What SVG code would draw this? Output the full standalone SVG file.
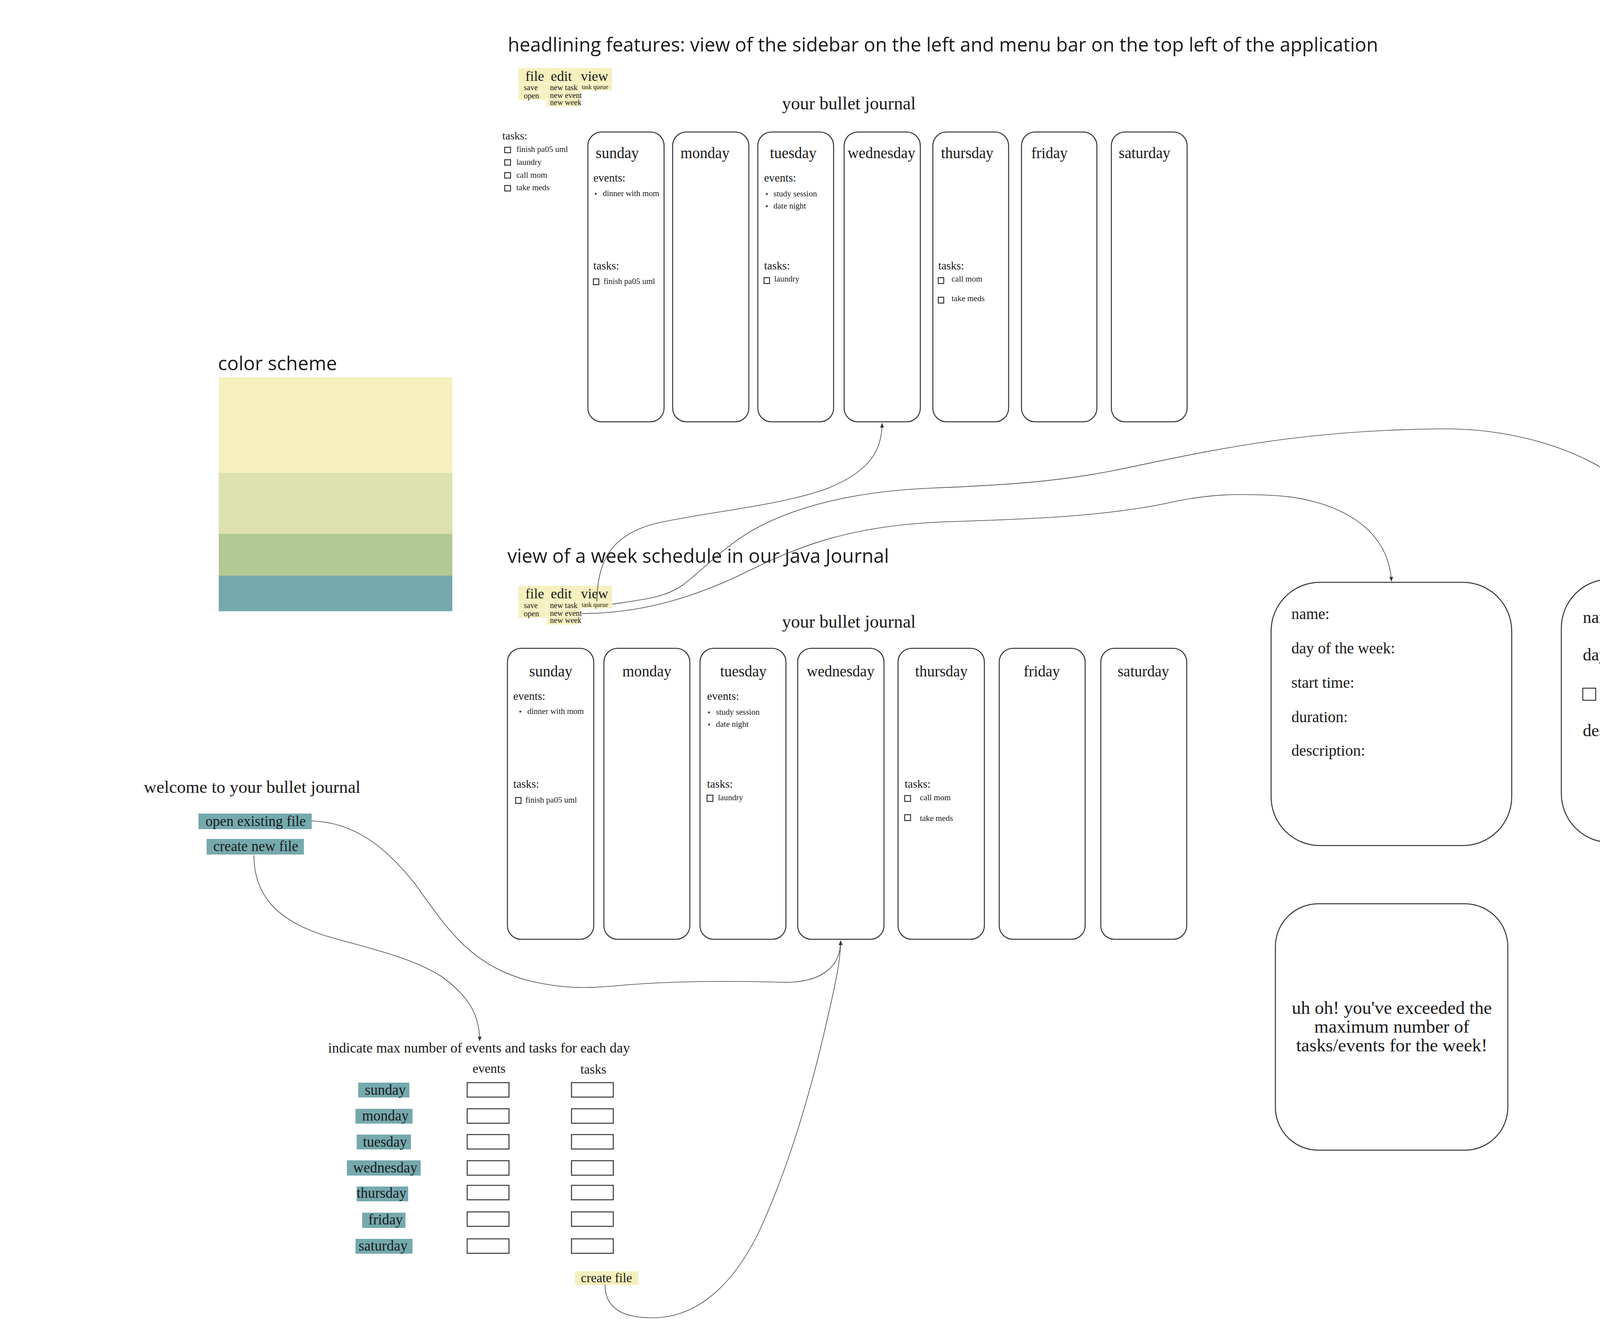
<svg xmlns="http://www.w3.org/2000/svg" width="4662" height="3431" viewBox="0 0 4662 3431">
<defs>
<style>
.title{font-family:"Open Sans","Noto Sans",sans-serif;font-size:49px;fill:#1a1a1a}
.sf{font-family:"Liberation Serif","Times New Roman",serif;fill:#1a1a1a}
.card{fill:#fff;stroke:#333;stroke-width:2.5}
.cb{fill:#fff;stroke:#222;stroke-width:2.2}
.inp{fill:#fff;stroke:#333;stroke-width:2.5}
.menu{fill:#F5F0BE;stroke:#FBF8E3;stroke-width:1.5}
.teal{fill:#75A9AE}
.yel{fill:#F5F0BE}
.conn{fill:none;stroke:#444;stroke-width:1.6}
.day{font-size:39px}
.lab{font-size:29px}
.item{font-size:21px}
</style>
<marker id="arr" viewBox="0 0 10 10" refX="9" refY="5" markerWidth="12" markerHeight="12" markerUnits="userSpaceOnUse" orient="auto">
<path d="M0,1 L10,5 L0,9 Z" fill="#333"/>
</marker>
</defs>
<rect width="4662" height="3431" fill="#fff"/>

<g id="title-headlining">
<text class="title" x="1300" y="132">headlining features: view of the sidebar on the left and menu bar on the top left of the application</text>
</g>

<g id="menu-top">
<rect class="menu" x="1327" y="174" width="240" height="40"/>
<rect class="menu" x="1327" y="214" width="72" height="21"/>
<rect class="menu" x="1327" y="235" width="72" height="21"/>
<rect class="menu" x="1399" y="214" width="88" height="19"/>
<rect class="menu" x="1399" y="233" width="88" height="20"/>
<rect class="menu" x="1399" y="253" width="88" height="20"/>
<rect class="menu" x="1487" y="214" width="80" height="18"/>
<text class="sf" font-size="36" x="1345" y="207">file</text>
<text class="sf" font-size="36" x="1410" y="207">edit</text>
<text class="sf" font-size="36" x="1487" y="207">view</text>
<text class="sf" font-size="20" x="1341" y="231">save</text>
<text class="sf" font-size="20" x="1341" y="252">open</text>
<text class="sf" font-size="20" x="1408" y="231">new task</text>
<text class="sf" font-size="20" x="1408" y="251">new event</text>
<text class="sf" font-size="20" x="1408" y="269">new week</text>
<text class="sf" font-size="16" x="1489" y="228">task queue</text>
</g>

<g id="journal-title-top">
<text class="sf" font-size="46" x="2002" y="280">your bullet journal</text>
</g>

<g id="sidebar">
<text class="sf" font-size="28" x="1286" y="357">tasks:</text>
<rect class="cb" x="1292" y="377" width="15" height="14"/>
<text class="sf item" x="1322" y="389">finish pa05 uml</text>
<rect class="cb" x="1292" y="409" width="15" height="14"/>
<text class="sf item" x="1322" y="422">laundry</text>
<rect class="cb" x="1292" y="442" width="15" height="14"/>
<text class="sf item" x="1322" y="455">call mom</text>
<rect class="cb" x="1292" y="475" width="15" height="14"/>
<text class="sf item" x="1322" y="487">take meds</text>
</g>

<g id="top-sunday">
<rect class="card" x="1505" y="338" width="195" height="742" rx="35"/>
<text class="sf day" x="1525" y="405">sunday</text>
<text class="sf lab" x="1519" y="465">events:</text>
<circle cx="1525" cy="496" r="2.5" fill="#333"/>
<text class="sf item" x="1543" y="502">dinner with mom</text>
<text class="sf lab" x="1519" y="690">tasks:</text>
<rect class="cb" x="1519" y="714" width="14" height="15"/>
<text class="sf item" x="1545" y="727">finish pa05 uml</text>
</g>
<g id="top-monday">
<rect class="card" x="1722" y="338" width="195" height="742" rx="35"/>
<text class="sf day" x="1742" y="405">monday</text>
</g>
<g id="top-tuesday">
<rect class="card" x="1940" y="338" width="194" height="742" rx="35"/>
<text class="sf day" x="1971" y="405">tuesday</text>
<text class="sf lab" x="1956" y="465">events:</text>
<circle cx="1963" cy="497" r="2.5" fill="#333"/>
<text class="sf item" x="1980" y="503">study session</text>
<circle cx="1963" cy="528" r="2.5" fill="#333"/>
<text class="sf item" x="1980" y="534">date night</text>
<text class="sf lab" x="1956" y="690">tasks:</text>
<rect class="cb" x="1956" y="711" width="14" height="15"/>
<text class="sf item" x="1982" y="721">laundry</text>
</g>
<g id="top-wednesday">
<rect class="card" x="2161" y="338" width="195" height="742" rx="35"/>
<text class="sf day" x="2170" y="405">wednesday</text>
</g>
<g id="top-thursday">
<rect class="card" x="2388" y="338" width="194" height="742" rx="35"/>
<text class="sf day" x="2409" y="405">thursday</text>
<text class="sf lab" x="2402" y="690">tasks:</text>
<rect class="cb" x="2402" y="711" width="14" height="15"/>
<text class="sf item" x="2436" y="721">call mom</text>
<rect class="cb" x="2402" y="761" width="14" height="15"/>
<text class="sf item" x="2436" y="771">take meds</text>
</g>
<g id="top-friday">
<rect class="card" x="2615" y="338" width="193" height="742" rx="35"/>
<text class="sf day" x="2640" y="405">friday</text>
</g>
<g id="top-saturday">
<rect class="card" x="2845" y="338" width="194" height="742" rx="35"/>
<text class="sf day" x="2864" y="405">saturday</text>
</g>

<g id="color-scheme">
<text class="title" x="558" y="948">color scheme</text>
<rect x="560" y="966" width="598" height="245" fill="#F5F0BE"/>
<rect x="560" y="1211" width="598" height="156" fill="#DCE1AD"/>
<rect x="560" y="1367" width="598" height="107" fill="#B3C994"/>
<rect x="560" y="1474" width="598" height="91" fill="#75A9AE"/>
</g>

<g id="title-week">
<text class="title" x="1299" y="1441">view of a week schedule in our Java Journal</text>
</g>

<g id="menu-week">
<rect class="menu" x="1327" y="1500" width="240" height="40"/>
<rect class="menu" x="1327" y="1540" width="72" height="21"/>
<rect class="menu" x="1327" y="1561" width="72" height="21"/>
<rect class="menu" x="1399" y="1540" width="88" height="19"/>
<rect class="menu" x="1399" y="1559" width="88" height="20"/>
<rect class="menu" x="1399" y="1579" width="88" height="20"/>
<rect class="menu" x="1487" y="1540" width="80" height="18"/>
<text class="sf" font-size="36" x="1345" y="1532">file</text>
<text class="sf" font-size="36" x="1410" y="1532">edit</text>
<text class="sf" font-size="36" x="1487" y="1532">view</text>
<text class="sf" font-size="20" x="1341" y="1557">save</text>
<text class="sf" font-size="20" x="1341" y="1578">open</text>
<text class="sf" font-size="20" x="1408" y="1557">new task</text>
<text class="sf" font-size="20" x="1408" y="1577">new event</text>
<text class="sf" font-size="20" x="1408" y="1595">new week</text>
<text class="sf" font-size="16" x="1489" y="1554">task queue</text>
</g>

<g id="journal-title-week">
<text class="sf" font-size="46" x="2002" y="1607">your bullet journal</text>
</g>

<g id="week-sunday">
<rect class="card" x="1299" y="1660" width="221" height="745" rx="35"/>
<text class="sf day" x="1410" y="1732" text-anchor="middle">sunday</text>
<text class="sf lab" x="1314" y="1792">events:</text>
<circle cx="1332" cy="1822" r="2.5" fill="#333"/>
<text class="sf item" x="1350" y="1828">dinner with mom</text>
<text class="sf lab" x="1314" y="2017">tasks:</text>
<rect class="cb" x="1320" y="2042" width="14" height="15"/>
<text class="sf item" x="1345" y="2055">finish pa05 uml</text>
</g>
<g id="week-monday">
<rect class="card" x="1546" y="1660" width="220" height="745" rx="35"/>
<text class="sf day" x="1656" y="1732" text-anchor="middle">monday</text>
</g>
<g id="week-tuesday">
<rect class="card" x="1792" y="1660" width="220" height="745" rx="35"/>
<text class="sf day" x="1903" y="1732" text-anchor="middle">tuesday</text>
<text class="sf lab" x="1810" y="1792">events:</text>
<circle cx="1815" cy="1824" r="2.5" fill="#333"/>
<text class="sf item" x="1833" y="1830">study session</text>
<circle cx="1815" cy="1855" r="2.5" fill="#333"/>
<text class="sf item" x="1833" y="1861">date night</text>
<text class="sf lab" x="1810" y="2017">tasks:</text>
<rect class="cb" x="1810" y="2036" width="15" height="16"/>
<text class="sf item" x="1838" y="2049">laundry</text>
</g>
<g id="week-wednesday">
<rect class="card" x="2042" y="1660" width="221" height="745" rx="35"/>
<text class="sf day" x="2152" y="1732" text-anchor="middle">wednesday</text>
</g>
<g id="week-thursday">
<rect class="card" x="2299" y="1660" width="221" height="745" rx="35"/>
<text class="sf day" x="2410" y="1732" text-anchor="middle">thursday</text>
<text class="sf lab" x="2316" y="2017">tasks:</text>
<rect class="cb" x="2316" y="2037" width="15" height="15"/>
<text class="sf item" x="2355" y="2049">call mom</text>
<rect class="cb" x="2316" y="2086" width="15" height="15"/>
<text class="sf item" x="2355" y="2102">take meds</text>
</g>
<g id="week-friday">
<rect class="card" x="2558" y="1660" width="220" height="745" rx="35"/>
<text class="sf day" x="2667" y="1732" text-anchor="middle">friday</text>
</g>
<g id="week-saturday">
<rect class="card" x="2818" y="1660" width="220" height="745" rx="35"/>
<text class="sf day" x="2927" y="1732" text-anchor="middle">saturday</text>
</g>

<g id="event-form">
<rect class="card" x="3254" y="1491" width="616" height="674" rx="125"/>
<text class="sf" font-size="40" x="3306" y="1585">name:</text>
<text class="sf" font-size="40" x="3306" y="1673">day of the week:</text>
<text class="sf" font-size="40" x="3306" y="1761">start time:</text>
<text class="sf" font-size="40" x="3306" y="1849">duration:</text>
<text class="sf" font-size="40" x="3306" y="1935">description:</text>
</g>

<g id="task-form">
<rect class="card" x="3997" y="1483" width="614" height="674" rx="125"/>
<text class="sf" font-size="44" x="4052" y="1595">name:</text>
<text class="sf" font-size="44" x="4052" y="1691">day of the week:</text>
<rect class="cb" x="4052" y="1762" width="33" height="31"/>
<text class="sf" font-size="44" x="4102" y="1789">completed</text>
<text class="sf" font-size="44" x="4052" y="1885">description:</text>
</g>

<g id="error-box">
<rect class="card" x="3265" y="2314" width="595" height="631" rx="110"/>
<text class="sf" font-size="47" text-anchor="middle" x="3563" y="2596">uh oh! you've exceeded the</text>
<text class="sf" font-size="47" text-anchor="middle" x="3563" y="2644">maximum number of</text>
<text class="sf" font-size="47" text-anchor="middle" x="3563" y="2692">tasks/events for the week!</text>
</g>

<g id="welcome">
<text class="sf" font-size="45" x="368" y="2030">welcome to your bullet journal</text>
</g>
<g id="btn-open">
<rect class="teal" x="508" y="2083" width="290" height="40"/>
<text class="sf" font-size="37" x="526" y="2115">open existing file</text>
</g>
<g id="btn-create-new">
<rect class="teal" x="529" y="2148" width="249" height="40"/>
<text class="sf" font-size="37" x="546" y="2179">create new file</text>
</g>

<g id="max-setup">
<text class="sf" font-size="36" x="840" y="2695">indicate max number of events and tasks for each day</text>
<text class="sf" font-size="33" x="1252" y="2747" text-anchor="middle">events</text>
<text class="sf" font-size="33" x="1519" y="2749" text-anchor="middle">tasks</text>
<rect class="teal" x="917" y="2772" width="131" height="38"/>
<text class="sf" font-size="37" x="934" y="2803">sunday</text>
<rect class="teal" x="910" y="2839" width="146" height="38"/>
<text class="sf" font-size="37" x="927" y="2869">monday</text>
<rect class="teal" x="913" y="2905" width="139" height="38"/>
<text class="sf" font-size="37" x="929" y="2936">tuesday</text>
<rect class="teal" x="888" y="2971" width="189" height="39"/>
<text class="sf" font-size="37" x="904" y="3002">wednesday</text>
<rect class="teal" x="913" y="3038" width="132" height="38"/>
<text class="sf" font-size="37" x="913" y="3067">thursday</text>
<rect class="teal" x="927" y="3105" width="111" height="39"/>
<text class="sf" font-size="37" x="943" y="3135">friday</text>
<rect class="teal" x="910" y="3172" width="146" height="38"/>
<text class="sf" font-size="37" x="918" y="3202">saturday</text>
<rect class="inp" x="1196" y="2772" width="107" height="37"/>
<rect class="inp" x="1463" y="2772" width="107" height="37"/>
<rect class="inp" x="1196" y="2839" width="107" height="37"/>
<rect class="inp" x="1463" y="2839" width="107" height="37"/>
<rect class="inp" x="1196" y="2905" width="107" height="37"/>
<rect class="inp" x="1463" y="2905" width="107" height="37"/>
<rect class="inp" x="1196" y="2972" width="107" height="37"/>
<rect class="inp" x="1463" y="2972" width="107" height="37"/>
<rect class="inp" x="1196" y="3035" width="107" height="37"/>
<rect class="inp" x="1463" y="3035" width="107" height="37"/>
<rect class="inp" x="1196" y="3103" width="107" height="37"/>
<rect class="inp" x="1463" y="3103" width="107" height="37"/>
<rect class="inp" x="1196" y="3172" width="107" height="37"/>
<rect class="inp" x="1463" y="3172" width="107" height="37"/>
</g>
<g id="btn-create-file">
<rect class="yel" x="1472" y="3255" width="162" height="35"/>
<text class="sf" font-size="33" x="1487" y="3283">create file</text>
</g>

<g id="connectors">
<path class="conn" marker-end="url(#arr)" d="M1528,1540 C1530,1440 1560,1370 1680,1340 C1800,1312 2000,1295 2120,1250 C2230,1205 2258,1150 2258,1084"/>
<path class="conn" marker-end="url(#arr)" d="M1567,1547 C1650,1535 1700,1530 1745,1500 C1800,1460 1860,1390 1950,1345 C2060,1290 2200,1258 2380,1250 C2550,1243 2700,1235 2850,1205 C3050,1165 3300,1100 3700,1098 C4000,1098 4290,1250 4302,1480"/>
<path class="conn" marker-end="url(#arr)" d="M1489,1571 C1640,1571 1780,1530 1920,1460 C2050,1395 2180,1350 2380,1338 C2550,1330 2780,1330 2980,1290 C3100,1262 3180,1265 3250,1268 C3420,1275 3555,1350 3562,1488"/>
<path class="conn" marker-end="url(#arr)" d="M798,2102 C900,2105 980,2160 1060,2260 C1140,2370 1200,2470 1350,2510 C1450,2535 1520,2530 1600,2522 C1750,2510 1900,2512 2000,2515 C2110,2518 2152,2470 2152,2409"/>
<path class="conn" marker-end="url(#arr)" d="M650,2190 C650,2300 720,2360 830,2395 C950,2430 1050,2450 1130,2500 C1200,2550 1228,2600 1228,2665"/>
<path class="conn" marker-end="url(#arr)" d="M1549,3290 C1549,3340 1580,3372 1660,3374 C1760,3378 1860,3320 1940,3160 C2020,2990 2080,2780 2120,2600 C2148,2480 2152,2440 2152,2409"/>
</g>
</svg>
